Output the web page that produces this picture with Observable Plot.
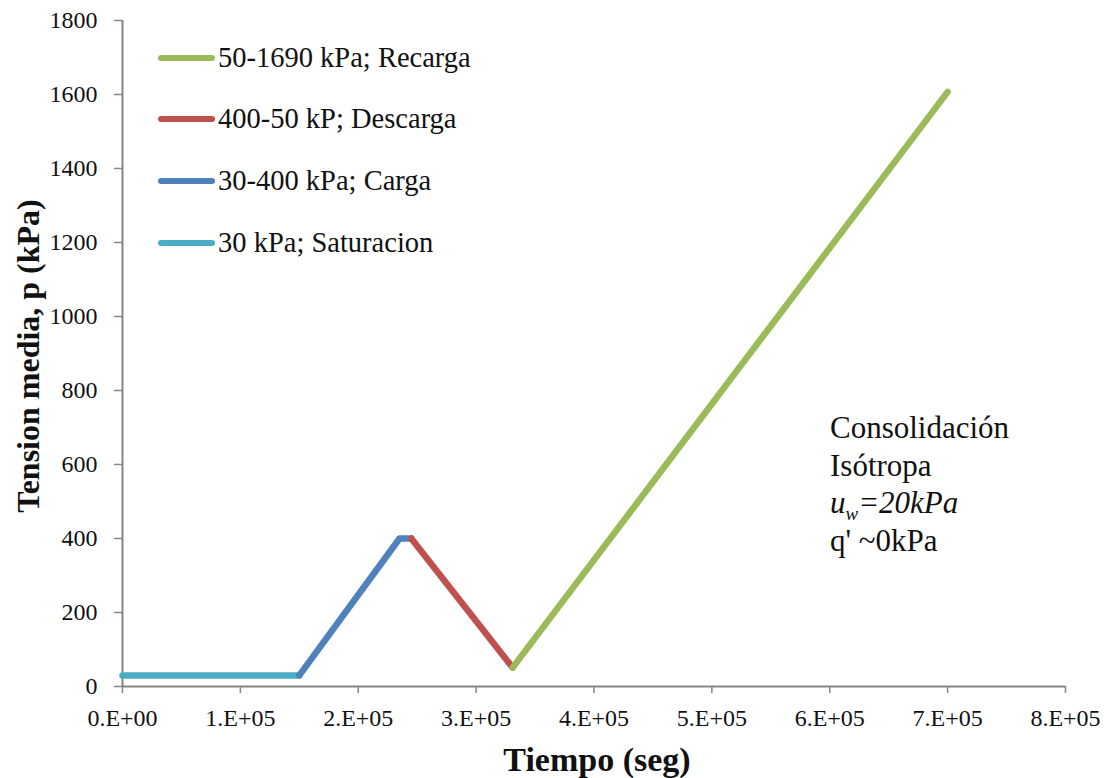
<!DOCTYPE html>
<html>
<head>
<meta charset="utf-8">
<script src="https://cdn.jsdelivr.net/npm/d3@7"></script>
<script src="https://cdn.jsdelivr.net/npm/@observablehq/plot@0.6"></script>
<style>
  body { margin: 0; background: #fff; }
  #wrap { position: relative; width: 1107px; height: 778px; }
  #wrap div { font-family: 'Liberation Serif', serif; color: #111; }
  .row { position: absolute; left: 158px; height: 30px; white-space: nowrap; display: flex; align-items: center; font-size: 28.5px; transform: translateY(-50%); }
  .sw { display: inline-block; width: 57px; height: 6px; border-radius: 3px; margin-right: 3px; }
  .note { position: absolute; left: 830px; top: 409px; font-size: 31px; line-height: 37.5px; white-space: nowrap; }
  .xt { position: absolute; left: 597px; top: 743px; transform: translateX(-50%); font-size: 34px; line-height: 34px; font-weight: bold; white-space: nowrap; }
  .yt { position: absolute; left: 28px; top: 356px; transform: translate(-50%, -50%) rotate(-90deg); font-size: 32px; line-height: 32px; font-weight: bold; white-space: nowrap; }
</style>
</head>
<body>
<div id="wrap"></div>
<script>
// Series (time in s, mean stress p in kPa)
const satT = [0, 150000];
const satP = [30, 30];
const cargaT = [150000, 235000, 245000];
const cargaP = [30, 400, 400];
const descT = [245000, 331000];
const descP = [400, 51];
const recT = [331000, 700000];
const recP = [51, 1607];

const seriesNames = ["50-1690 kPa; Recarga", "400-50 kP; Descarga", "30-400 kPa; Carga", "30 kPa; Saturacion"];
const seriesColors = ["#9BBB59", "#C0504D", "#4F81BD", "#4BACC6"];

const xTicks = [0, 100000, 200000, 300000, 400000, 500000, 600000, 700000, 800000];
const yTicks = [0, 200, 400, 600, 800, 1000, 1200, 1400, 1600, 1800];

const toRows = (T, P) => T.map((t, i) => ({t, p: P[i]}));
const sat = toRows(satT, satP), carga = toRows(cargaT, cargaP), desc = toRows(descT, descP), rec = toRows(recT, recP);

const fmtX = d => d === 0 ? "0.E+00" : `${Math.round(d / 1e5)}.E+05`;
const fmtY = d => String(d);
const axisColor = "#868686";
const FF = "Liberation Serif";

const chart = Plot.plot({
  width: 1107,
  height: 778,
  marginLeft: 122,
  marginRight: 42,
  marginTop: 20,
  marginBottom: 92,
  style: { fontFamily: "'Liberation Serif', serif", fontSize: "24px", color: "#111", background: "#fff" },
  x: { domain: [0, 800000] },
  y: { domain: [0, 1800] },
  marks: [
    Plot.axisY({ ticks: yTicks, tickSize: 8, tickPadding: 17, stroke: axisColor, strokeWidth: 1.5, strokeOpacity: 1, fill: "#111", fontFamily: FF, fontSize: 24, tickFormat: fmtY, label: null }),
    Plot.axisX({ ticks: xTicks, tickSize: 7, tickPadding: 15, stroke: axisColor, strokeWidth: 1.5, strokeOpacity: 1, fill: "#111", fontFamily: FF, fontSize: 24, tickFormat: fmtX, label: null }),
    Plot.ruleY([0], { stroke: axisColor, strokeWidth: 2 }),
    Plot.ruleX([0], { stroke: axisColor, strokeWidth: 2 }),
    Plot.line(sat, { x: "t", y: "p", stroke: seriesColors[3], strokeWidth: 6.5, strokeLinecap: "round" }),
    Plot.line(carga, { x: "t", y: "p", stroke: seriesColors[2], strokeWidth: 6.5, strokeLinecap: "round", strokeLinejoin: "round" }),
    Plot.line(desc, { x: "t", y: "p", stroke: seriesColors[1], strokeWidth: 6.5, strokeLinecap: "round" }),
    Plot.line(rec, { x: "t", y: "p", stroke: seriesColors[0], strokeWidth: 6.5, strokeLinecap: "round" })
  ]
});

const wrap = document.getElementById("wrap");
wrap.appendChild(chart);
chart.style.position = "absolute";
chart.style.left = "0";
chart.style.top = "0";

const legCenters = [57.5, 119, 181, 242.5];
seriesNames.forEach((n, i) => {
  const row = document.createElement("div");
  row.className = "row";
  row.style.top = legCenters[i] + "px";
  row.innerHTML = `<span class="sw" style="background:${seriesColors[i]}"></span>${n}`;
  wrap.appendChild(row);
});

const note = document.createElement("div");
note.className = "note";
note.innerHTML = `Consolidación<br>Isótropa<br><i>u<sub style="font-size:19px;line-height:0">w</sub>=20kPa</i><br>q' ~0kPa`;
wrap.appendChild(note);

const xt = document.createElement("div");
xt.className = "xt";
xt.textContent = "Tiempo (seg)";
wrap.appendChild(xt);

const yt = document.createElement("div");
yt.className = "yt";
yt.textContent = "Tension media, p (kPa)";
wrap.appendChild(yt);
</script>
</body>
</html>
